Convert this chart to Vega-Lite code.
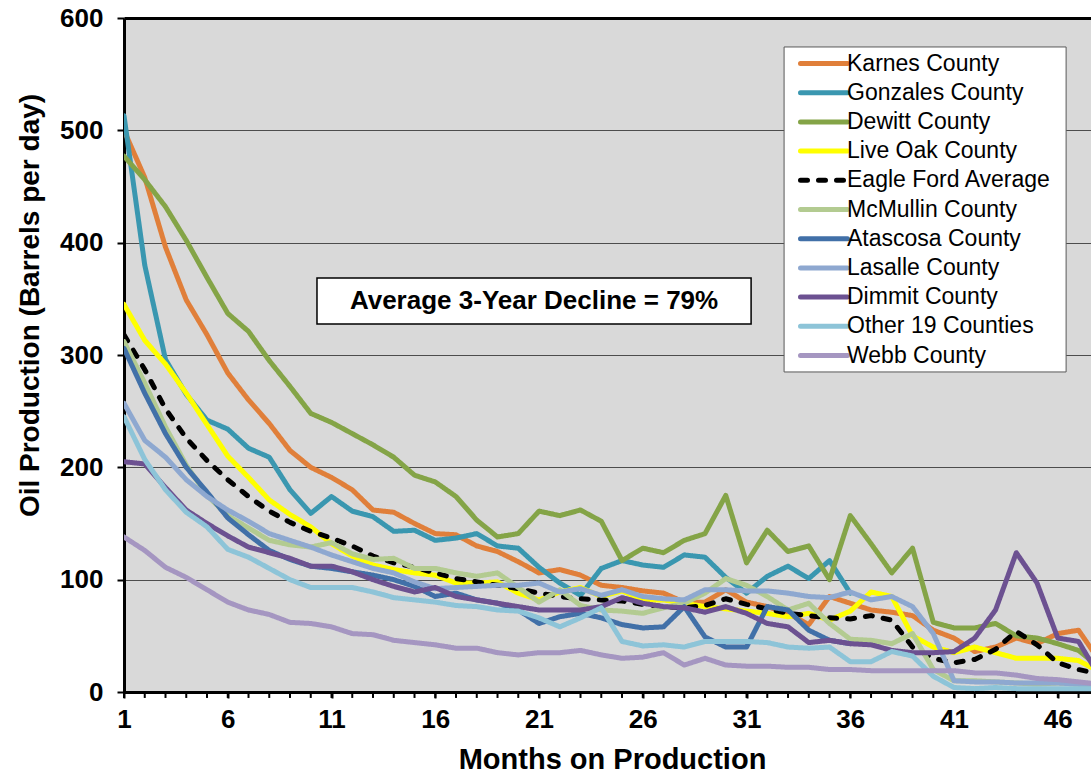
{
  "$schema": "https://vega.github.io/schema/vega-lite/v6.json",
  "width": 967,
  "height": 674,
  "autosize": {"type": "none"},
  "padding": {"left": 124, "top": 18, "right": 0, "bottom": 84},
  "background": "white",
  "config": {
    "view": {"fill": "#D9D9D9", "stroke": null},
    "font": "Liberation Sans, Arial, sans-serif",
    "legend": {
      "orient": "none",
      "legendX": 660,
      "legendY": 27,
      "padding": 6,
      "symbolType": "M-2.35,0H2.35",
      "symbolSize": 400,
      "symbolStrokeWidth": 5,
      "symbolOffset": 21.5,
      "labelOffset": 10.5,
      "labelFontSize": 23,
      "labelColor": "black",
      "labelFont": "Liberation Sans, Arial, sans-serif",
      "labelLimit": 400,
      "rowPadding": 4.2,
      "fillColor": null,
      "strokeColor": null
    }
  },
  "datasets": {
    "lines": [
      {"s":"Karnes County","m":1,"v":500},{"s":"Karnes County","m":2,"v":458},{"s":"Karnes County","m":3,"v":396},{"s":"Karnes County","m":4,"v":349},{"s":"Karnes County","m":5,"v":318},{"s":"Karnes County","m":6,"v":284},{"s":"Karnes County","m":7,"v":260},{"s":"Karnes County","m":8,"v":239},{"s":"Karnes County","m":9,"v":215},{"s":"Karnes County","m":10,"v":200},{"s":"Karnes County","m":11,"v":191},{"s":"Karnes County","m":12,"v":180},{"s":"Karnes County","m":13,"v":162},{"s":"Karnes County","m":14,"v":160},{"s":"Karnes County","m":15,"v":150},{"s":"Karnes County","m":16,"v":141},{"s":"Karnes County","m":17,"v":140},{"s":"Karnes County","m":18,"v":130},{"s":"Karnes County","m":19,"v":125},{"s":"Karnes County","m":20,"v":116},{"s":"Karnes County","m":21,"v":106},{"s":"Karnes County","m":22,"v":109},{"s":"Karnes County","m":23,"v":104},{"s":"Karnes County","m":24,"v":95},{"s":"Karnes County","m":25,"v":93},{"s":"Karnes County","m":26,"v":90},{"s":"Karnes County","m":27,"v":88},{"s":"Karnes County","m":28,"v":80},{"s":"Karnes County","m":29,"v":80},{"s":"Karnes County","m":30,"v":91},{"s":"Karnes County","m":31,"v":80},{"s":"Karnes County","m":32,"v":76},{"s":"Karnes County","m":33,"v":70},{"s":"Karnes County","m":34,"v":60},{"s":"Karnes County","m":35,"v":85},{"s":"Karnes County","m":36,"v":79},{"s":"Karnes County","m":37,"v":73},{"s":"Karnes County","m":38,"v":71},{"s":"Karnes County","m":39,"v":68},{"s":"Karnes County","m":40,"v":55},{"s":"Karnes County","m":41,"v":48},{"s":"Karnes County","m":42,"v":36},{"s":"Karnes County","m":43,"v":40},{"s":"Karnes County","m":44,"v":48},{"s":"Karnes County","m":45,"v":43},{"s":"Karnes County","m":46,"v":52},{"s":"Karnes County","m":47,"v":55},{"s":"Karnes County","m":48,"v":28},
      {"s":"Gonzales County","m":1,"v":513},{"s":"Gonzales County","m":2,"v":380},{"s":"Gonzales County","m":3,"v":296},{"s":"Gonzales County","m":4,"v":265},{"s":"Gonzales County","m":5,"v":242},{"s":"Gonzales County","m":6,"v":234},{"s":"Gonzales County","m":7,"v":217},{"s":"Gonzales County","m":8,"v":209},{"s":"Gonzales County","m":9,"v":180},{"s":"Gonzales County","m":10,"v":159},{"s":"Gonzales County","m":11,"v":174},{"s":"Gonzales County","m":12,"v":161},{"s":"Gonzales County","m":13,"v":156},{"s":"Gonzales County","m":14,"v":143},{"s":"Gonzales County","m":15,"v":144},{"s":"Gonzales County","m":16,"v":135},{"s":"Gonzales County","m":17,"v":137},{"s":"Gonzales County","m":18,"v":141},{"s":"Gonzales County","m":19,"v":130},{"s":"Gonzales County","m":20,"v":128},{"s":"Gonzales County","m":21,"v":111},{"s":"Gonzales County","m":22,"v":97},{"s":"Gonzales County","m":23,"v":86},{"s":"Gonzales County","m":24,"v":110},{"s":"Gonzales County","m":25,"v":117},{"s":"Gonzales County","m":26,"v":113},{"s":"Gonzales County","m":27,"v":111},{"s":"Gonzales County","m":28,"v":122},{"s":"Gonzales County","m":29,"v":120},{"s":"Gonzales County","m":30,"v":102},{"s":"Gonzales County","m":31,"v":88},{"s":"Gonzales County","m":32,"v":103},{"s":"Gonzales County","m":33,"v":112},{"s":"Gonzales County","m":34,"v":101},{"s":"Gonzales County","m":35,"v":117},{"s":"Gonzales County","m":36,"v":88},
      {"s":"Dewitt County","m":1,"v":477},{"s":"Dewitt County","m":2,"v":456},{"s":"Dewitt County","m":3,"v":432},{"s":"Dewitt County","m":4,"v":402},{"s":"Dewitt County","m":5,"v":369},{"s":"Dewitt County","m":6,"v":337},{"s":"Dewitt County","m":7,"v":321},{"s":"Dewitt County","m":8,"v":295},{"s":"Dewitt County","m":9,"v":272},{"s":"Dewitt County","m":10,"v":248},{"s":"Dewitt County","m":11,"v":240},{"s":"Dewitt County","m":12,"v":230},{"s":"Dewitt County","m":13,"v":220},{"s":"Dewitt County","m":14,"v":209},{"s":"Dewitt County","m":15,"v":193},{"s":"Dewitt County","m":16,"v":187},{"s":"Dewitt County","m":17,"v":174},{"s":"Dewitt County","m":18,"v":153},{"s":"Dewitt County","m":19,"v":138},{"s":"Dewitt County","m":20,"v":141},{"s":"Dewitt County","m":21,"v":161},{"s":"Dewitt County","m":22,"v":157},{"s":"Dewitt County","m":23,"v":162},{"s":"Dewitt County","m":24,"v":152},{"s":"Dewitt County","m":25,"v":117},{"s":"Dewitt County","m":26,"v":128},{"s":"Dewitt County","m":27,"v":124},{"s":"Dewitt County","m":28,"v":135},{"s":"Dewitt County","m":29,"v":141},{"s":"Dewitt County","m":30,"v":175},{"s":"Dewitt County","m":31,"v":115},{"s":"Dewitt County","m":32,"v":144},{"s":"Dewitt County","m":33,"v":125},{"s":"Dewitt County","m":34,"v":130},{"s":"Dewitt County","m":35,"v":100},{"s":"Dewitt County","m":36,"v":157},{"s":"Dewitt County","m":37,"v":132},{"s":"Dewitt County","m":38,"v":106},{"s":"Dewitt County","m":39,"v":128},{"s":"Dewitt County","m":40,"v":62},{"s":"Dewitt County","m":41,"v":57},{"s":"Dewitt County","m":42,"v":57},{"s":"Dewitt County","m":43,"v":61},{"s":"Dewitt County","m":44,"v":50},{"s":"Dewitt County","m":45,"v":48},{"s":"Dewitt County","m":46,"v":43},{"s":"Dewitt County","m":47,"v":37},{"s":"Dewitt County","m":48,"v":22},
      {"s":"Live Oak County","m":1,"v":345},{"s":"Live Oak County","m":2,"v":313},{"s":"Live Oak County","m":3,"v":292},{"s":"Live Oak County","m":4,"v":266},{"s":"Live Oak County","m":5,"v":238},{"s":"Live Oak County","m":6,"v":210},{"s":"Live Oak County","m":7,"v":191},{"s":"Live Oak County","m":8,"v":171},{"s":"Live Oak County","m":9,"v":158},{"s":"Live Oak County","m":10,"v":147},{"s":"Live Oak County","m":11,"v":132},{"s":"Live Oak County","m":12,"v":121},{"s":"Live Oak County","m":13,"v":113},{"s":"Live Oak County","m":14,"v":109},{"s":"Live Oak County","m":15,"v":106},{"s":"Live Oak County","m":16,"v":104},{"s":"Live Oak County","m":17,"v":97},{"s":"Live Oak County","m":18,"v":97},{"s":"Live Oak County","m":19,"v":98},{"s":"Live Oak County","m":20,"v":88},{"s":"Live Oak County","m":21,"v":82},{"s":"Live Oak County","m":22,"v":89},{"s":"Live Oak County","m":23,"v":93},{"s":"Live Oak County","m":24,"v":85},{"s":"Live Oak County","m":25,"v":90},{"s":"Live Oak County","m":26,"v":82},{"s":"Live Oak County","m":27,"v":82},{"s":"Live Oak County","m":28,"v":79},{"s":"Live Oak County","m":29,"v":76},{"s":"Live Oak County","m":30,"v":74},{"s":"Live Oak County","m":31,"v":72},{"s":"Live Oak County","m":32,"v":70},{"s":"Live Oak County","m":33,"v":67},{"s":"Live Oak County","m":34,"v":70},{"s":"Live Oak County","m":35,"v":64},{"s":"Live Oak County","m":36,"v":72},{"s":"Live Oak County","m":37,"v":89},{"s":"Live Oak County","m":38,"v":85},{"s":"Live Oak County","m":39,"v":50},{"s":"Live Oak County","m":40,"v":40},{"s":"Live Oak County","m":41,"v":35},{"s":"Live Oak County","m":42,"v":40},{"s":"Live Oak County","m":43,"v":35},{"s":"Live Oak County","m":44,"v":30},{"s":"Live Oak County","m":45,"v":30},{"s":"Live Oak County","m":46,"v":30},{"s":"Live Oak County","m":47,"v":28},{"s":"Live Oak County","m":48,"v":18},
      {"s":"Eagle Ford Average","m":1,"v":318},{"s":"Eagle Ford Average","m":2,"v":287},{"s":"Eagle Ford Average","m":3,"v":252},{"s":"Eagle Ford Average","m":4,"v":226},{"s":"Eagle Ford Average","m":5,"v":206},{"s":"Eagle Ford Average","m":6,"v":189},{"s":"Eagle Ford Average","m":7,"v":174},{"s":"Eagle Ford Average","m":8,"v":161},{"s":"Eagle Ford Average","m":9,"v":151},{"s":"Eagle Ford Average","m":10,"v":143},{"s":"Eagle Ford Average","m":11,"v":137},{"s":"Eagle Ford Average","m":12,"v":130},{"s":"Eagle Ford Average","m":13,"v":121},{"s":"Eagle Ford Average","m":14,"v":115},{"s":"Eagle Ford Average","m":15,"v":111},{"s":"Eagle Ford Average","m":16,"v":106},{"s":"Eagle Ford Average","m":17,"v":101},{"s":"Eagle Ford Average","m":18,"v":98},{"s":"Eagle Ford Average","m":19,"v":95},{"s":"Eagle Ford Average","m":20,"v":92},{"s":"Eagle Ford Average","m":21,"v":88},{"s":"Eagle Ford Average","m":22,"v":85},{"s":"Eagle Ford Average","m":23,"v":83},{"s":"Eagle Ford Average","m":24,"v":82},{"s":"Eagle Ford Average","m":25,"v":81},{"s":"Eagle Ford Average","m":26,"v":78},{"s":"Eagle Ford Average","m":27,"v":76},{"s":"Eagle Ford Average","m":28,"v":75},{"s":"Eagle Ford Average","m":29,"v":77},{"s":"Eagle Ford Average","m":30,"v":83},{"s":"Eagle Ford Average","m":31,"v":78},{"s":"Eagle Ford Average","m":32,"v":74},{"s":"Eagle Ford Average","m":33,"v":70},{"s":"Eagle Ford Average","m":34,"v":68},{"s":"Eagle Ford Average","m":35,"v":66},{"s":"Eagle Ford Average","m":36,"v":65},{"s":"Eagle Ford Average","m":37,"v":68},{"s":"Eagle Ford Average","m":38,"v":64},{"s":"Eagle Ford Average","m":39,"v":40},{"s":"Eagle Ford Average","m":40,"v":30},{"s":"Eagle Ford Average","m":41,"v":26},{"s":"Eagle Ford Average","m":42,"v":29},{"s":"Eagle Ford Average","m":43,"v":38},{"s":"Eagle Ford Average","m":44,"v":54},{"s":"Eagle Ford Average","m":45,"v":42},{"s":"Eagle Ford Average","m":46,"v":26},{"s":"Eagle Ford Average","m":47,"v":20},{"s":"Eagle Ford Average","m":48,"v":16},
      {"s":"McMullin County","m":1,"v":312},{"s":"McMullin County","m":2,"v":275},{"s":"McMullin County","m":3,"v":236},{"s":"McMullin County","m":4,"v":202},{"s":"McMullin County","m":5,"v":175},{"s":"McMullin County","m":6,"v":157},{"s":"McMullin County","m":7,"v":146},{"s":"McMullin County","m":8,"v":135},{"s":"McMullin County","m":9,"v":131},{"s":"McMullin County","m":10,"v":129},{"s":"McMullin County","m":11,"v":133},{"s":"McMullin County","m":12,"v":123},{"s":"McMullin County","m":13,"v":118},{"s":"McMullin County","m":14,"v":119},{"s":"McMullin County","m":15,"v":110},{"s":"McMullin County","m":16,"v":110},{"s":"McMullin County","m":17,"v":106},{"s":"McMullin County","m":18,"v":103},{"s":"McMullin County","m":19,"v":106},{"s":"McMullin County","m":20,"v":93},{"s":"McMullin County","m":21,"v":80},{"s":"McMullin County","m":22,"v":91},{"s":"McMullin County","m":23,"v":77},{"s":"McMullin County","m":24,"v":73},{"s":"McMullin County","m":25,"v":72},{"s":"McMullin County","m":26,"v":70},{"s":"McMullin County","m":27,"v":75},{"s":"McMullin County","m":28,"v":79},{"s":"McMullin County","m":29,"v":88},{"s":"McMullin County","m":30,"v":101},{"s":"McMullin County","m":31,"v":95},{"s":"McMullin County","m":32,"v":85},{"s":"McMullin County","m":33,"v":73},{"s":"McMullin County","m":34,"v":79},{"s":"McMullin County","m":35,"v":61},{"s":"McMullin County","m":36,"v":47},{"s":"McMullin County","m":37,"v":46},{"s":"McMullin County","m":38,"v":43},{"s":"McMullin County","m":39,"v":52},{"s":"McMullin County","m":40,"v":20},{"s":"McMullin County","m":41,"v":10},{"s":"McMullin County","m":42,"v":10},{"s":"McMullin County","m":43,"v":9},{"s":"McMullin County","m":44,"v":8},{"s":"McMullin County","m":45,"v":7},{"s":"McMullin County","m":46,"v":8},{"s":"McMullin County","m":47,"v":7},{"s":"McMullin County","m":48,"v":6},
      {"s":"Atascosa County","m":1,"v":306},{"s":"Atascosa County","m":2,"v":266},{"s":"Atascosa County","m":3,"v":230},{"s":"Atascosa County","m":4,"v":200},{"s":"Atascosa County","m":5,"v":178},{"s":"Atascosa County","m":6,"v":155},{"s":"Atascosa County","m":7,"v":140},{"s":"Atascosa County","m":8,"v":126},{"s":"Atascosa County","m":9,"v":118},{"s":"Atascosa County","m":10,"v":112},{"s":"Atascosa County","m":11,"v":110},{"s":"Atascosa County","m":12,"v":107},{"s":"Atascosa County","m":13,"v":104},{"s":"Atascosa County","m":14,"v":100},{"s":"Atascosa County","m":15,"v":94},{"s":"Atascosa County","m":16,"v":85},{"s":"Atascosa County","m":17,"v":88},{"s":"Atascosa County","m":18,"v":82},{"s":"Atascosa County","m":19,"v":79},{"s":"Atascosa County","m":20,"v":73},{"s":"Atascosa County","m":21,"v":61},{"s":"Atascosa County","m":22,"v":67},{"s":"Atascosa County","m":23,"v":70},{"s":"Atascosa County","m":24,"v":66},{"s":"Atascosa County","m":25,"v":60},{"s":"Atascosa County","m":26,"v":57},{"s":"Atascosa County","m":27,"v":58},{"s":"Atascosa County","m":28,"v":76},{"s":"Atascosa County","m":29,"v":49},{"s":"Atascosa County","m":30,"v":40},{"s":"Atascosa County","m":31,"v":40},{"s":"Atascosa County","m":32,"v":76},{"s":"Atascosa County","m":33,"v":73},{"s":"Atascosa County","m":34,"v":55},{"s":"Atascosa County","m":35,"v":46},{"s":"Atascosa County","m":36,"v":43},
      {"s":"Lasalle County","m":1,"v":257},{"s":"Lasalle County","m":2,"v":224},{"s":"Lasalle County","m":3,"v":209},{"s":"Lasalle County","m":4,"v":189},{"s":"Lasalle County","m":5,"v":174},{"s":"Lasalle County","m":6,"v":162},{"s":"Lasalle County","m":7,"v":152},{"s":"Lasalle County","m":8,"v":141},{"s":"Lasalle County","m":9,"v":135},{"s":"Lasalle County","m":10,"v":129},{"s":"Lasalle County","m":11,"v":122},{"s":"Lasalle County","m":12,"v":116},{"s":"Lasalle County","m":13,"v":110},{"s":"Lasalle County","m":14,"v":106},{"s":"Lasalle County","m":15,"v":98},{"s":"Lasalle County","m":16,"v":92},{"s":"Lasalle County","m":17,"v":93},{"s":"Lasalle County","m":18,"v":94},{"s":"Lasalle County","m":19,"v":95},{"s":"Lasalle County","m":20,"v":95},{"s":"Lasalle County","m":21,"v":97},{"s":"Lasalle County","m":22,"v":89},{"s":"Lasalle County","m":23,"v":92},{"s":"Lasalle County","m":24,"v":86},{"s":"Lasalle County","m":25,"v":91},{"s":"Lasalle County","m":26,"v":85},{"s":"Lasalle County","m":27,"v":83},{"s":"Lasalle County","m":28,"v":82},{"s":"Lasalle County","m":29,"v":91},{"s":"Lasalle County","m":30,"v":91},{"s":"Lasalle County","m":31,"v":90},{"s":"Lasalle County","m":32,"v":90},{"s":"Lasalle County","m":33,"v":88},{"s":"Lasalle County","m":34,"v":85},{"s":"Lasalle County","m":35,"v":84},{"s":"Lasalle County","m":36,"v":89},{"s":"Lasalle County","m":37,"v":82},{"s":"Lasalle County","m":38,"v":85},{"s":"Lasalle County","m":39,"v":76},{"s":"Lasalle County","m":40,"v":52},{"s":"Lasalle County","m":41,"v":10},{"s":"Lasalle County","m":42,"v":9},{"s":"Lasalle County","m":43,"v":9},{"s":"Lasalle County","m":44,"v":8},{"s":"Lasalle County","m":45,"v":8},{"s":"Lasalle County","m":46,"v":8},{"s":"Lasalle County","m":47,"v":7},{"s":"Lasalle County","m":48,"v":7},
      {"s":"Dimmit County","m":1,"v":205},{"s":"Dimmit County","m":2,"v":203},{"s":"Dimmit County","m":3,"v":182},{"s":"Dimmit County","m":4,"v":162},{"s":"Dimmit County","m":5,"v":150},{"s":"Dimmit County","m":6,"v":139},{"s":"Dimmit County","m":7,"v":129},{"s":"Dimmit County","m":8,"v":124},{"s":"Dimmit County","m":9,"v":119},{"s":"Dimmit County","m":10,"v":112},{"s":"Dimmit County","m":11,"v":112},{"s":"Dimmit County","m":12,"v":107},{"s":"Dimmit County","m":13,"v":100},{"s":"Dimmit County","m":14,"v":94},{"s":"Dimmit County","m":15,"v":89},{"s":"Dimmit County","m":16,"v":93},{"s":"Dimmit County","m":17,"v":85},{"s":"Dimmit County","m":18,"v":82},{"s":"Dimmit County","m":19,"v":79},{"s":"Dimmit County","m":20,"v":76},{"s":"Dimmit County","m":21,"v":73},{"s":"Dimmit County","m":22,"v":73},{"s":"Dimmit County","m":23,"v":73},{"s":"Dimmit County","m":24,"v":76},{"s":"Dimmit County","m":25,"v":84},{"s":"Dimmit County","m":26,"v":79},{"s":"Dimmit County","m":27,"v":76},{"s":"Dimmit County","m":28,"v":75},{"s":"Dimmit County","m":29,"v":71},{"s":"Dimmit County","m":30,"v":76},{"s":"Dimmit County","m":31,"v":70},{"s":"Dimmit County","m":32,"v":61},{"s":"Dimmit County","m":33,"v":58},{"s":"Dimmit County","m":34,"v":44},{"s":"Dimmit County","m":35,"v":46},{"s":"Dimmit County","m":36,"v":43},{"s":"Dimmit County","m":37,"v":42},{"s":"Dimmit County","m":38,"v":37},{"s":"Dimmit County","m":39,"v":35},{"s":"Dimmit County","m":40,"v":35},{"s":"Dimmit County","m":41,"v":36},{"s":"Dimmit County","m":42,"v":48},{"s":"Dimmit County","m":43,"v":73},{"s":"Dimmit County","m":44,"v":124},{"s":"Dimmit County","m":45,"v":97},{"s":"Dimmit County","m":46,"v":48},{"s":"Dimmit County","m":47,"v":45},{"s":"Dimmit County","m":48,"v":14},
      {"s":"Other 19 Counties","m":1,"v":245},{"s":"Other 19 Counties","m":2,"v":207},{"s":"Other 19 Counties","m":3,"v":180},{"s":"Other 19 Counties","m":4,"v":160},{"s":"Other 19 Counties","m":5,"v":147},{"s":"Other 19 Counties","m":6,"v":127},{"s":"Other 19 Counties","m":7,"v":120},{"s":"Other 19 Counties","m":8,"v":110},{"s":"Other 19 Counties","m":9,"v":100},{"s":"Other 19 Counties","m":10,"v":93},{"s":"Other 19 Counties","m":11,"v":93},{"s":"Other 19 Counties","m":12,"v":93},{"s":"Other 19 Counties","m":13,"v":89},{"s":"Other 19 Counties","m":14,"v":84},{"s":"Other 19 Counties","m":15,"v":82},{"s":"Other 19 Counties","m":16,"v":80},{"s":"Other 19 Counties","m":17,"v":77},{"s":"Other 19 Counties","m":18,"v":76},{"s":"Other 19 Counties","m":19,"v":73},{"s":"Other 19 Counties","m":20,"v":72},{"s":"Other 19 Counties","m":21,"v":66},{"s":"Other 19 Counties","m":22,"v":58},{"s":"Other 19 Counties","m":23,"v":66},{"s":"Other 19 Counties","m":24,"v":75},{"s":"Other 19 Counties","m":25,"v":45},{"s":"Other 19 Counties","m":26,"v":41},{"s":"Other 19 Counties","m":27,"v":42},{"s":"Other 19 Counties","m":28,"v":40},{"s":"Other 19 Counties","m":29,"v":45},{"s":"Other 19 Counties","m":30,"v":45},{"s":"Other 19 Counties","m":31,"v":45},{"s":"Other 19 Counties","m":32,"v":44},{"s":"Other 19 Counties","m":33,"v":40},{"s":"Other 19 Counties","m":34,"v":39},{"s":"Other 19 Counties","m":35,"v":40},{"s":"Other 19 Counties","m":36,"v":27},{"s":"Other 19 Counties","m":37,"v":27},{"s":"Other 19 Counties","m":38,"v":36},{"s":"Other 19 Counties","m":39,"v":32},{"s":"Other 19 Counties","m":40,"v":14},{"s":"Other 19 Counties","m":41,"v":4},{"s":"Other 19 Counties","m":42,"v":3},{"s":"Other 19 Counties","m":43,"v":4},{"s":"Other 19 Counties","m":44,"v":3},{"s":"Other 19 Counties","m":45,"v":3},{"s":"Other 19 Counties","m":46,"v":3},{"s":"Other 19 Counties","m":47,"v":3},{"s":"Other 19 Counties","m":48,"v":3},
      {"s":"Webb County","m":1,"v":138},{"s":"Webb County","m":2,"v":126},{"s":"Webb County","m":3,"v":111},{"s":"Webb County","m":4,"v":102},{"s":"Webb County","m":5,"v":91},{"s":"Webb County","m":6,"v":80},{"s":"Webb County","m":7,"v":73},{"s":"Webb County","m":8,"v":69},{"s":"Webb County","m":9,"v":62},{"s":"Webb County","m":10,"v":61},{"s":"Webb County","m":11,"v":58},{"s":"Webb County","m":12,"v":52},{"s":"Webb County","m":13,"v":51},{"s":"Webb County","m":14,"v":46},{"s":"Webb County","m":15,"v":44},{"s":"Webb County","m":16,"v":42},{"s":"Webb County","m":17,"v":39},{"s":"Webb County","m":18,"v":39},{"s":"Webb County","m":19,"v":35},{"s":"Webb County","m":20,"v":33},{"s":"Webb County","m":21,"v":35},{"s":"Webb County","m":22,"v":35},{"s":"Webb County","m":23,"v":37},{"s":"Webb County","m":24,"v":33},{"s":"Webb County","m":25,"v":30},{"s":"Webb County","m":26,"v":31},{"s":"Webb County","m":27,"v":35},{"s":"Webb County","m":28,"v":24},{"s":"Webb County","m":29,"v":30},{"s":"Webb County","m":30,"v":24},{"s":"Webb County","m":31,"v":23},{"s":"Webb County","m":32,"v":23},{"s":"Webb County","m":33,"v":22},{"s":"Webb County","m":34,"v":22},{"s":"Webb County","m":35,"v":20},{"s":"Webb County","m":36,"v":20},{"s":"Webb County","m":37,"v":19},{"s":"Webb County","m":38,"v":19},{"s":"Webb County","m":39,"v":19},{"s":"Webb County","m":40,"v":19},{"s":"Webb County","m":41,"v":19},{"s":"Webb County","m":42,"v":17},{"s":"Webb County","m":43,"v":17},{"s":"Webb County","m":44,"v":15},{"s":"Webb County","m":45,"v":12},{"s":"Webb County","m":46,"v":11},{"s":"Webb County","m":47,"v":9},{"s":"Webb County","m":48,"v":7}
    ]
  },
  "layer": [
    {
      "data": {"name": "lines"},
      "mark": {"type": "line", "strokeWidth": 5, "strokeCap": "round", "strokeJoin": "round", "clip": true},
      "encoding": {
        "x": {
          "field": "m", "type": "quantitative",
          "scale": {"domain": [1, 47.6], "nice": false, "zero": false},
          "axis": {
            "title": "Months on Production",
            "values": [1, 6, 11, 16, 21, 26, 31, 36, 41, 46],
            "grid": false,
            "domainColor": "black", "domainWidth": 3,
            "tickColor": "black", "tickWidth": 2, "tickSize": 6,
            "labelFontSize": 26, "labelFontWeight": "bold", "labelColor": "black",
            "labelFont": "Liberation Sans, Arial, sans-serif",
            "labelPadding": 8, "labelFlush": false, "labelOverlap": false,
            "titleFontSize": 29, "titleFontWeight": "bold", "titleColor": "black",
            "titleFont": "Liberation Sans, Arial, sans-serif",
            "titleX": 488, "titleY": 76, "titleAlign": "center", "titleBaseline": "alphabetic"
          }
        },
        "y": {
          "field": "v", "type": "quantitative",
          "scale": {"domain": [0, 600], "nice": false},
          "axis": {
            "title": "Oil Production (Barrels per day)",
            "values": [0, 100, 200, 300, 400, 500, 600],
            "grid": true,
            "gridColor": {"condition": {"test": "datum.value === 600", "value": "black"}, "value": "#4d4d4d"},
            "gridWidth": {"condition": {"test": "datum.value === 600", "value": 3}, "value": 1},
            "domainColor": "black", "domainWidth": 3,
            "tickColor": "black", "tickWidth": 2, "tickSize": 7,
            "labelFontSize": 26, "labelFontWeight": "bold", "labelColor": "black",
            "labelFont": "Liberation Sans, Arial, sans-serif",
            "labelPadding": 14, "labelOverlap": false,
            "titleFontSize": 28, "titleFontWeight": "bold", "titleColor": "black",
            "titleFont": "Liberation Sans, Arial, sans-serif",
            "titleAngle": 270, "titleX": -86, "titleY": 287, "titleAlign": "center", "titleBaseline": "alphabetic"
          }
        },
        "color": {
          "field": "s", "type": "nominal", "title": null,
          "scale": {
            "domain": ["Karnes County", "Gonzales County", "Dewitt County", "Live Oak County", "Eagle Ford Average", "McMullin County", "Atascosa County", "Lasalle County", "Dimmit County", "Other 19 Counties", "Webb County"],
            "range": ["#E07F3A", "#3A97B0", "#84A447", "#FFFF00", "#000000", "#B3CB91", "#4170A8", "#8EA8D0", "#6C5191", "#8DC4D8", "#A596C1"]
          },
          "legend": {"title": null, "encode": {"symbols": {"update": {"strokeCap": {"value": "round"}}}}}
        },
        "strokeDash": {
          "field": "s", "type": "nominal", "title": null,
          "scale": {
            "domain": ["Karnes County", "Gonzales County", "Dewitt County", "Live Oak County", "Eagle Ford Average", "McMullin County", "Atascosa County", "Lasalle County", "Dimmit County", "Other 19 Counties", "Webb County"],
            "range": [[1, 0], [1, 0], [1, 0], [1, 0], [7, 11], [1, 0], [1, 0], [1, 0], [1, 0], [1, 0], [1, 0]]
          },
          "legend": {"title": null, "encode": {"symbols": {"update": {"strokeCap": {"value": "round"}}}}}
        }
      }
    },
    {
      "data": {"name": "lines"},
      "transform": [{"filter": "datum.s == 'Webb County' && datum.m <= 47"}],
      "mark": {"type": "rule", "color": "black", "strokeWidth": 2, "clip": false},
      "encoding": {
        "x": {"field": "m", "type": "quantitative"},
        "y": {"datum": 0},
        "y2": {"datum": -5.3}
      }
    },
    {
      "data": {"values": [{}]},
      "mark": {"type": "rect", "fill": "white", "stroke": "#595959", "strokeWidth": 1},
      "encoding": {
        "x": {"datum": 32.81}, "x2": {"datum": 46.4},
        "y": {"datum": 284.9}, "y2": {"datum": 574.2}
      }
    },
    {
      "data": {"values": [{}]},
      "mark": {"type": "rect", "fill": "white", "stroke": "black", "strokeWidth": 1.5},
      "encoding": {
        "x": {"datum": 10.3}, "x2": {"datum": 31.22},
        "y": {"datum": 327.6}, "y2": {"datum": 368.6}
      }
    },
    {
      "data": {"values": [{"label": "Average 3-Year Decline = 79%"}]},
      "mark": {"type": "text", "fontSize": 26, "fontWeight": "bold", "color": "black", "align": "center", "baseline": "middle", "font": "Liberation Sans, Arial, sans-serif"},
      "encoding": {
        "x": {"datum": 20.76}, "y": {"datum": 348},
        "text": {"field": "label", "type": "nominal"}
      }
    }
  ]
}
